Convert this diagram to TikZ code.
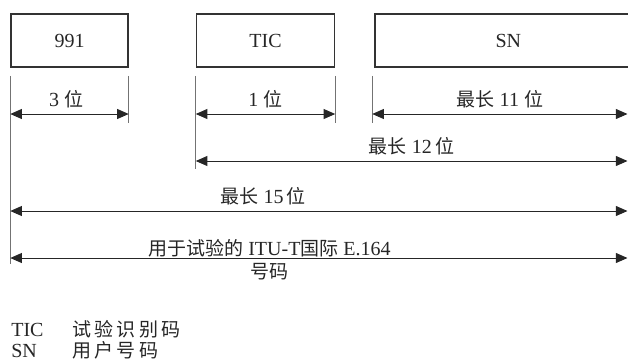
\documentclass[tikz,border=0pt]{standalone}
\usepackage{fontspec}
\setmainfont{Liberation Serif}
\newfontfamily\cjk[Scale=0.95]{Noto Sans CJK SC}
\newfontfamily\cjkwijd[Scale=0.95,LetterSpace=17]{Noto Sans CJK SC}
\usepackage{xcolor}
\usepackage{tikz}
\usetikzlibrary{arrows.meta, positioning}
\newcommand{\zh}[1]{{\cjk #1}}

\begin{document}
\begin{tikzpicture}[x=0.6pt, y=-0.6pt, node distance=23.4pt, font=\fontsize{12}{14}\selectfont, text=black!85]
        % Definieer stijlen
        \tikzstyle{veld} = [rectangle, minimum height=31.8pt, text centered, draw=black!80, line width=0.9pt, inner sep=0pt]
        \tikzstyle{grens} = [draw=black!55, line width=0.6pt]
        \tikzstyle{maat} = [draw=black!85, line width=0.6pt, {Triangle[length=7pt,width=6pt]}-{Triangle[length=7pt,width=6pt]}]
        \tikzstyle{legenda} = [anchor=base west, inner sep=0pt]

        \useasboundingbox (0,0) rectangle (628,360);
        \clip (0,0) rectangle (628,360);

        % Velden
        \node (nr) [veld, minimum width=70.2pt] at (69.5,40.5) {991};
        \node (tic) [veld, minimum width=82.8pt, right=40.2pt of nr] {TIC};
        \node (sn) [veld, minimum width=160pt, right=of tic] {SN};

        % Hulplijnen
        \draw [grens] (nr.south west) ++(0,8) -- ++(0,188);
        \draw [grens] (nr.south east) ++(0,8) -- ++(0,47);
        \draw [grens] (tic.south west) ++(0,8) -- ++(0,93);
        \draw [grens] (tic.south east) ++(0,8) -- ++(0,47);
        \draw [grens] (sn.south west) ++(-2,8) -- ++(0,47);

        % Rijen
        \coordinate (rij1) at (0,114);
        \coordinate (rij2) at (0,161);
        \coordinate (rij3) at (0,211);
        \coordinate (rij4) at (0,258);
        \coordinate (eind) at (627.5,0);

        % Maatpijlen
        \draw [maat] (nr.south west |- rij1) -- node[above, xshift=-2pt] {3 \zh{位}} (nr.south east |- rij1);
        \draw [maat] (tic.south west |- rij1) -- node[above] {1 \zh{位}} (tic.south east |- rij1);
        \draw [maat] ([xshift=-1.2pt]sn.south west |- rij1) -- node[above] {\zh{最长} 11 \zh{位}} (eind |- rij1);
        \draw [maat] (tic.south west |- rij2) -- node[above] {\zh{最长} 12\,\zh{位}} (eind |- rij2);
        \draw [maat] (nr.south west |- rij3) -- node[above, pos=0.41] {\zh{最长} 15\,\zh{位}} (eind |- rij3);
        \draw [maat] (nr.south west |- rij4) -- node[align=center, pos=0.42, yshift=-1pt] {\zh{用于试验的} ITU-T\zh{国际} E.164\\\zh{号码}} (eind |- rij4);

        % Legenda
        \node (ltic) [legenda] at (11,336) {TIC};
        \node (lticuitleg) [legenda] at (72,336) {\cjkwijd 试验识别码};
        \node (lsn) [legenda] at (11,357) {SN};
        \node (lsnuitleg) [legenda] at (72,357) {\cjkwijd 用户号码};

    \end{tikzpicture}
\end{document}
